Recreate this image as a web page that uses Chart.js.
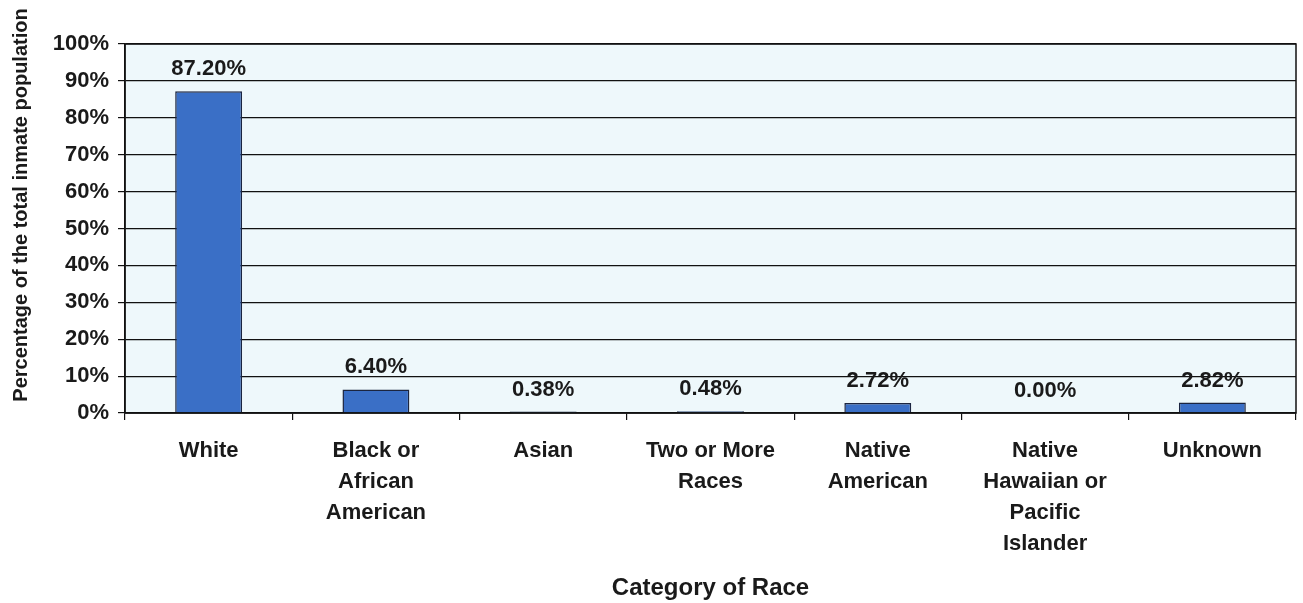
<!DOCTYPE html>
<html>
<head>
<meta charset="utf-8">
<script src="https://cdn.jsdelivr.net/npm/chart.js@4/dist/chart.umd.min.js"></script>
<style>
  html, body { margin: 0; padding: 0; background: #fff; }
  #wrap { width: 1303px; height: 603px; }
</style>
</head>
<body>
<div id="wrap"><canvas id="chart" width="1303" height="603"></canvas></div>
<script>
// categories and values
const categories = [
    ['White'],
    ['Black or', 'African', 'American'],
    ['Asian'],
    ['Two or More', 'Races'],
    ['Native', 'American'],
    ['Native', 'Hawaiian or', 'Pacific', 'Islander'],
    ['Unknown']
];
const percentValues = [87.20, 6.40, 0.38, 0.48, 2.72, 0.00, 2.82];
const yTickValues = [0, 10, 20, 30, 40, 50, 60, 70, 80, 90, 100];
const yTitle = 'Percentage of the total inmate population';

const fontFamily = '"Liberation Sans", Arial, sans-serif';
const textColor = '#1a1a1a';

// plot background, frame and the y title (sits a bit above the plot centre)
const frame = {
    id: 'frame',
    beforeDraw(chart) {
        const {ctx, chartArea: a} = chart;
        ctx.save();
        ctx.fillStyle = '#eef8fb';
        ctx.fillRect(a.left, a.top, a.right - a.left, a.bottom - a.top);
        ctx.restore();
    },
    afterDraw(chart) {
        const {ctx, chartArea: a} = chart;
        ctx.save();
        ctx.strokeStyle = '#111';
        ctx.lineWidth = 1.5;
        ctx.strokeRect(a.left, a.top, a.right - a.left, a.bottom - a.top);

        ctx.translate(21, 205);
        ctx.rotate(-Math.PI / 2);
        ctx.font = 'bold 20px ' + fontFamily;
        ctx.fillStyle = textColor;
        ctx.textAlign = 'center';
        ctx.textBaseline = 'middle';
        ctx.fillText(yTitle, 0, 0);
        ctx.restore();
    }
};

// value labels above each bar
const valueLabels = {
    id: 'valueLabels',
    afterDatasetsDraw(chart) {
        const {ctx} = chart;
        const meta = chart.getDatasetMeta(0);
        ctx.save();
        ctx.font = 'bold 22px ' + fontFamily;
        ctx.fillStyle = textColor;
        ctx.textAlign = 'center';
        ctx.textBaseline = 'alphabetic';
        meta.data.forEach((bar, i) => {
            ctx.fillText(percentValues[i].toFixed(2) + '%', bar.x, bar.y - 16);
        });
        ctx.restore();
    }
};

new Chart(document.getElementById('chart'), {
    type: 'bar',
    data: {
        labels: categories,
        datasets: [{
            data: percentValues,
            backgroundColor: '#3a6fc6',
            borderColor: '#1b2540',
            borderWidth: 1.5,
            barPercentage: 0.4,
            categoryPercentage: 1
        }]
    },
    options: {
        responsive: false,
        animation: false,
        layout: { padding: { top: 44, right: 7, left: 0, bottom: 0 } },
        plugins: {
            legend: { display: false },
            tooltip: { enabled: false }
        },
        scales: {
            x: {
                grid: {
                    offset: true,
                    drawOnChartArea: false,
                    drawTicks: true,
                    tickLength: 7,
                    color: '#111',
                    lineWidth: 1.2
                },
                border: { display: true, color: '#111', width: 1.5 },
                ticks: {
                    color: textColor,
                    font: { family: fontFamily, size: 22, weight: 'bold', lineHeight: 1.42 },
                    padding: 15,
                    maxRotation: 0,
                    autoSkip: false
                },
                title: {
                    display: true,
                    text: 'Category of Race',
                    color: textColor,
                    font: { family: fontFamily, size: 24, weight: 'bold' },
                    padding: { top: 0, bottom: 0 }
                },
                afterFit(scale) { scale.height = 190; }
            },
            y: {
                min: 0,
                max: 100,
                afterBuildTicks(scale) {
                    scale.ticks = yTickValues.map(v => ({ value: v }));
                },
                grid: {
                    color: '#111',
                    lineWidth: 1.2,
                    tickLength: 7
                },
                border: { display: true, color: '#111', width: 1.5 },
                ticks: {
                    color: textColor,
                    font: { family: fontFamily, size: 22, weight: 'bold' },
                    padding: 9,
                    callback: v => v + '%'
                },
                afterFit(scale) { scale.width = 125; }
            }
        }
    },
    plugins: [frame, valueLabels]
});
</script>
</body>
</html>
